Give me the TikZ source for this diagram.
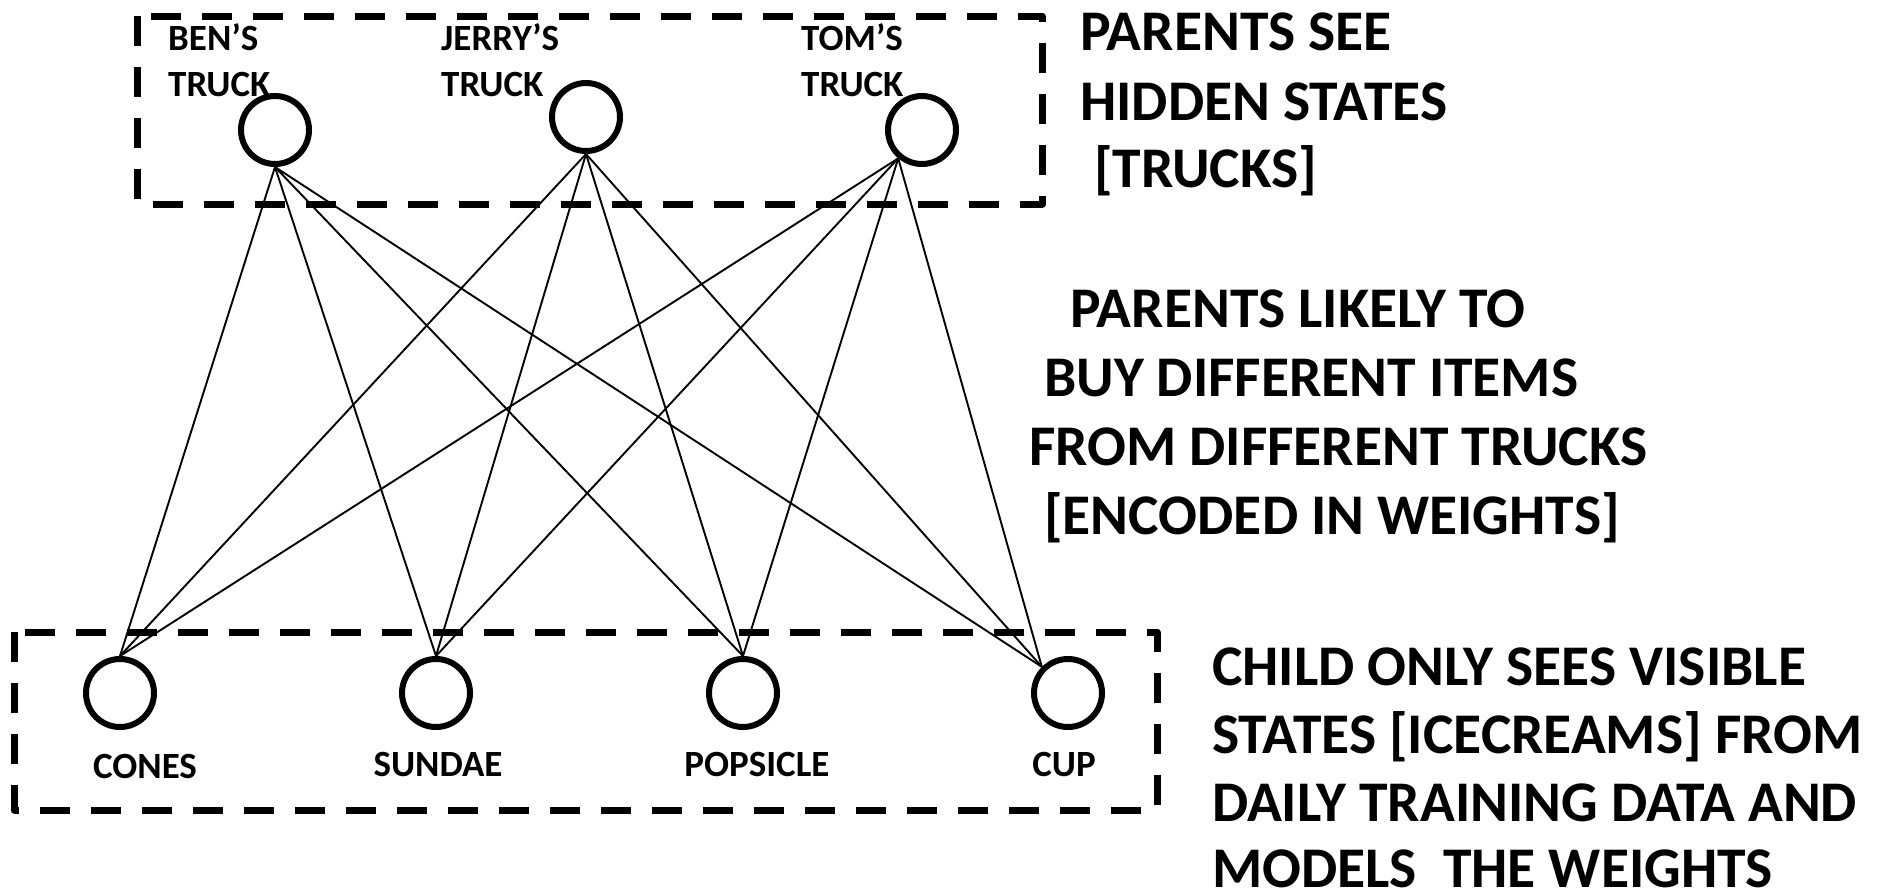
\documentclass[tikz,border=0pt]{standalone}
\usepackage{fontspec}
\setmainfont{Carlito}
\begin{document}
\begin{tikzpicture}[x=1pt,y=-1pt,
  unit/.style={circle, draw, line width=6pt, minimum size=68pt, inner sep=0pt},
  layerbox/.style={draw, line width=7pt, dash pattern=on 30pt off 21pt, line join=round},
  weight/.style={line width=1.9pt},
  unitlabel/.style={font=\bfseries\fontsize{37}{40}\selectfont, inner sep=0pt},
  note/.style={font=\bfseries\fontsize{57.5}{68}\selectfont, inner sep=0pt, anchor=base west},
]
\useasboundingbox (0,0) rectangle (1883,895);

% layer frames
\draw[layerbox] (137,16) rectangle (1042,204);
\draw[layerbox] (14,632) rectangle (1157,810);

% hidden units (trucks)
\node[unit] (ben)   at (275,130) {};
\node[unit] (jerry) at (586,117) {};
\node[unit] (tom)   at (922,130) {};

\node[unitlabel, anchor=base west] (benA)   at (168,50) {BEN’S};
\node[unitlabel, anchor=base west] (benB)   at (168,96) {TRUCK};
\node[unitlabel, anchor=base west] (jerryA) at (441,50) {JERRY’S};
\node[unitlabel, anchor=base west] (jerryB) at (441,96) {TRUCK};
\node[unitlabel, anchor=base west] (tomA)   at (801,50) {TOM’S};
\node[unitlabel, anchor=base west] (tomB)   at (801,96) {TRUCK};

% visible units (ice creams)
\node[unit] (cones)    at (120,693) {};
\node[unit] (sundae)   at (436,693) {};
\node[unit] (popsicle) at (743,693) {};
\node[unit] (cup)      at (1068,693) {};

\node[unitlabel, anchor=base] (conesL)    at (145,778) {CONES};
\node[unitlabel, anchor=base] (sundaeL)   at (438,776) {SUNDAE};
\node[unitlabel, anchor=base] (popsicleL) at (757,776) {POPSICLE};
\node[unitlabel, anchor=base] (cupL)      at (1064,776) {CUP};

% weights: every hidden unit to every visible unit
\foreach \t/\ta in {ben/south, jerry/south, tom/230}
  \foreach \c/\ca in {cones/north, sundae/north, popsicle/north, cup/135}
    \draw[weight] (\t.\ta) -- (\c.\ca);

% explanatory notes
\node[note] (n1a) at (1080,50)  {PARENTS SEE};
\node[note] (n1b) at (1080,120) {HIDDEN STATES};
\node[note] (n1c) at (1094,187) {[TRUCKS]};

\node[note] (n2a) at (1070,327) {PARENTS LIKELY TO};
\node[note] (n2b) at (1044,396) {BUY DIFFERENT ITEMS};
\node[note] (n2c) at (1029,465) {FROM DIFFERENT TRUCKS};
\node[note] (n2d) at (1044,534) {[ENCODED IN WEIGHTS]};

\node[note] (n3a) at (1212,685) {CHILD ONLY SEES VISIBLE};
\node[note] (n3b) at (1212,753) {STATES [ICECREAMS] FROM};
\node[note] (n3c) at (1212,821) {DAILY TRAINING DATA AND};
\node[note] (n3d) at (1212,887) {MODELS~~THE WEIGHTS};
\end{tikzpicture}
\end{document}
